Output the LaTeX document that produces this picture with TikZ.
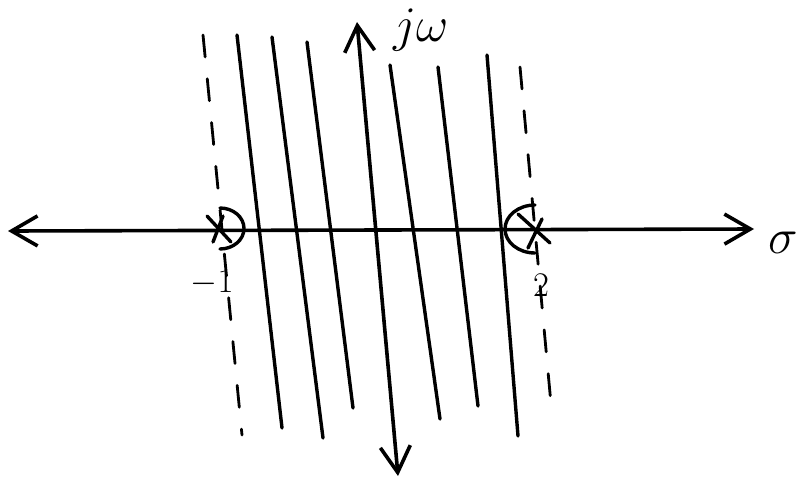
\documentclass[tikz,border=0pt]{standalone}
\usetikzlibrary{arrows.meta}
\tikzset{
  splane axis/.style={
    line width=1.8pt, line cap=round, line join=round,
    {Straight Barb[length=13pt,width=15pt,line width=1.8pt]}-{Straight Barb[length=13pt,width=15pt,line width=1.8pt]}
  },
  splane roc/.style={line width=1.7pt, line cap=round},
  splane bound/.style={line width=1.4pt, line cap=round, dash pattern=on 11pt off 11pt},
  splane pole/.style={line width=1.7pt, line cap=round},
  splane label/.style={inner sep=1pt, font=\fontsize{16}{19}\selectfont},
  splane axis label/.style={inner sep=1pt, font=\fontsize{26}{30}\selectfont}
}
\begin{document}
\begin{tikzpicture}[x=0.5pt,y=-0.5pt]
  \useasboundingbox (0,0) rectangle (806,482);
  % axes
  \coordinate (sigma west) at (8,231);
  \coordinate (sigma east) at (754,229);
  \coordinate (jw north) at (357,22);
  \coordinate (jw south) at (398,476);
  \coordinate (pole a) at (219,229);
  \coordinate (pole b) at (535,229);

  % boundaries of the strip
  \draw[splane bound] (203,35) -- (242,435);
  \draw[splane bound] (520,67) -- (552,415);

  % hatching inside the strip
  \foreach \xa/\ya/\xb/\yb in {237/35/282/428, 272/37/323/438, 307/42/353/408,
                               390/65/440/419, 438/67/478/406, 487/55/518/436}
    \draw[splane roc] (\xa,\ya) -- (\xb,\yb);

  \draw[splane axis] (sigma west) -- (sigma east);
  \draw[splane axis] (jw south) -- (jw north);

  % poles with indentations
  \draw[splane pole] (pole a) ++(-12,-13) -- ++(24,26);
  \draw[splane pole] (pole a) ++(4,-13) -- ++(-10,26);
  \draw[splane pole] (220,208) arc[start angle=-90, end angle=90, x radius=24, y radius=20.5];
  \draw[splane pole] (pole b) ++(-17,-15) -- ++(32,29);
  \draw[splane pole] (pole b) ++(7,-10) -- ++(-14,29);
  \draw[splane pole] (535,205) arc[start angle=-90, end angle=-270, x radius=30, y radius=24];

  % labels
  \node[splane axis label] (jw label) at (421,30) {$j\omega$};
  \node[splane axis label] (sigma label) at (783,243) {$\sigma$};
  \node[splane label] (pole a label) at (212,283) {$-1$};
  \node[splane label] (pole b label) at (541,285) {$2$};
\end{tikzpicture}
\end{document}
